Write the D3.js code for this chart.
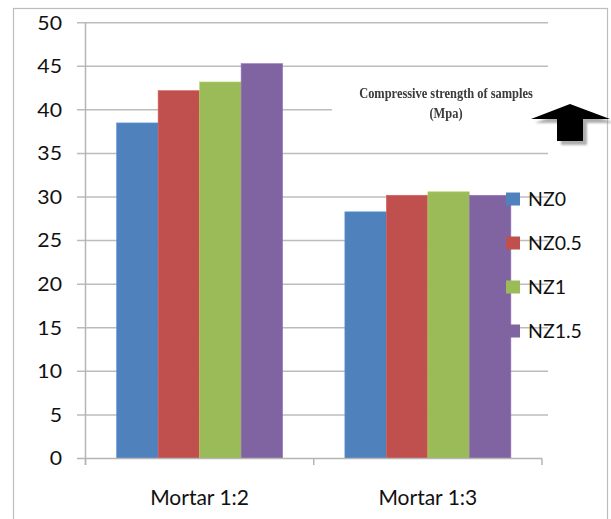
<!DOCTYPE html>
<html>
<head>
<meta charset="utf-8">
<script src="https://cdn.jsdelivr.net/npm/d3@7"></script>
<style>
  html, body { margin: 0; padding: 0; background: #fff; }
  svg { display: block; }
</style>
</head>
<body>
<svg id="chart" width="611" height="519"></svg>
<script>
// Compressive strength (MPa) by mortar mix and nano-material dosage
const categories = ["Mortar 1:2", "Mortar 1:3"];
const series = ["NZ0", "NZ0.5", "NZ1", "NZ1.5"];
const valuesNZ0   = [38.5, 28.3];
const valuesNZ05  = [42.2, 30.2];
const valuesNZ1   = [43.2, 30.6];
const valuesNZ15  = [45.3, 30.2];
const yTicks = [0, 5, 10, 15, 20, 25, 30, 35, 40, 45, 50];
const titleLines = ["Compressive strength of samples", "(Mpa)"];

const colors = ["#4F81BD", "#C0504D", "#9BBB59", "#8064A2"];
const seriesValues = [valuesNZ0, valuesNZ05, valuesNZ1, valuesNZ15];

const svg = d3.select("#chart");
const font = "Lato, 'Open Sans', sans-serif";

// outer chart frame
svg.append("rect")
  .attr("x", 13.5).attr("y", 8.5)
  .attr("width", 594).attr("height", 530)
  .attr("fill", "none").attr("stroke", "#bdbdbd").attr("stroke-width", 1.2);

const plot = { left: 85.5, right: 542, top: 22.7, bottom: 458.5, gridRight: 548 };

const x = d3.scaleBand().domain(categories).range([plot.left, plot.right]).padding(0);
const y = d3.scaleLinear().domain([0, 50]).range([plot.bottom, plot.top]);

// horizontal gridlines with left tick marks
svg.append("g").selectAll("line")
  .data(yTicks.filter(d => d > 0))
  .join("line")
  .attr("x1", 77).attr("x2", plot.gridRight)
  .attr("y1", d => y(d)).attr("y2", d => y(d))
  .attr("stroke", "#bcbcbc").attr("stroke-width", 1.5);

// y axis labels
svg.append("g").selectAll("text")
  .data(yTicks)
  .join("text")
  .attr("transform", d => `translate(62,${y(d)}) scale(1.12,1)`)
  .attr("dy", "0.36em")
  .attr("text-anchor", "end")
  .attr("font-family", font).attr("font-size", 19)
  .attr("fill", "#111")
  .text(d => d);

// bars
const inner = d3.scaleBand().domain(series).paddingInner(0);
const groupWidth = x.bandwidth() * 4 / 5.5;
categories.forEach((cat, ci) => {
  const cx = x(cat) + x.bandwidth() / 2;
  inner.range([cx - groupWidth / 2, cx + groupWidth / 2]);
  svg.append("g").selectAll("rect")
    .data(series.map((s, si) => ({ s, si, v: seriesValues[si][ci] })))
    .join("rect")
    .attr("x", d => inner(d.s))
    .attr("width", inner.bandwidth())
    .attr("y", d => y(d.v))
    .attr("height", d => y(0) - y(d.v))
    .attr("fill", d => colors[d.si])
    .attr("stroke", d => d3.color(colors[d.si]).brighter(0.4))
    .attr("stroke-width", 0.6);
});

// y axis line
svg.append("line")
  .attr("x1", plot.left).attr("x2", plot.left)
  .attr("y1", plot.top).attr("y2", 465)
  .attr("stroke", "#b5b5b5").attr("stroke-width", 1.5);

// x axis line and category ticks
svg.append("line")
  .attr("x1", 77).attr("x2", plot.right)
  .attr("y1", plot.bottom).attr("y2", plot.bottom)
  .attr("stroke", "#b5b5b5").attr("stroke-width", 1.5);
const xTickPos = [plot.left, ...categories.map(c => x(c) + x.bandwidth())];
svg.append("g").selectAll("line")
  .data(xTickPos)
  .join("line")
  .attr("x1", d => d).attr("x2", d => d)
  .attr("y1", plot.bottom).attr("y2", 465)
  .attr("stroke", "#b5b5b5").attr("stroke-width", 1.5);

svg.append("g").selectAll("text")
  .data(categories)
  .join("text")
  .attr("x", d => x(d) + x.bandwidth() / 2)
  .attr("y", 505)
  .attr("text-anchor", "middle")
  .attr("font-family", font).attr("font-size", 21)
  .attr("fill", "#111")
  .text(d => d);

// legend
const legend = svg.append("g");
series.forEach((s, i) => {
  const cy = 199 + i * 44;
  legend.append("rect")
    .attr("x", 506).attr("y", cy - 6.5)
    .attr("width", 14).attr("height", 13)
    .attr("fill", colors[i]);
  legend.append("text")
    .attr("x", 528).attr("y", cy)
    .attr("dy", "0.36em")
    .attr("font-family", font).attr("font-size", 19.5)
    .attr("fill", "#111")
    .text(s);
});

// annotation box with title text and arrow
const defs = svg.append("defs");
defs.append("filter").attr("id", "soft")
  .append("feGaussianBlur").attr("stdDeviation", 0.45);
defs.append("filter").attr("id", "shadowBlur")
  .append("feGaussianBlur").attr("stdDeviation", 1.2);

svg.append("rect")
  .attr("x", 332).attr("y", 76)
  .attr("width", 216).attr("height", 70)
  .attr("fill", "#fff");

svg.append("g").attr("filter", "url(#soft)")
  .selectAll("text")
  .data(titleLines)
  .join("text")
  .attr("transform", (d, i) => `translate(446,${93 + i * 20}) scale(0.92,1.15)`)
  .attr("dy", "0.35em")
  .attr("text-anchor", "middle")
  .attr("font-family", "'Liberation Serif', 'Times New Roman', serif")
  .attr("font-size", 13.5)
  .attr("font-weight", "bold")
  .attr("fill", "#3a3a3a")
  .text(d => d);

const arrowPts = [[570, 104], [531, 119], [557, 119], [557, 141], [583, 141], [583, 119], [610, 119]];
svg.append("polygon")
  .attr("points", arrowPts.map(p => [p[0] + 4, p[1] + 4].join(",")).join(" "))
  .attr("fill", "#9a9a9a").attr("opacity", 0.8)
  .attr("filter", "url(#shadowBlur)");
svg.append("polygon")
  .attr("points", arrowPts.map(p => p.join(",")).join(" "))
  .attr("fill", "#000")
  .attr("filter", "url(#soft)");
</script>
</body>
</html>
